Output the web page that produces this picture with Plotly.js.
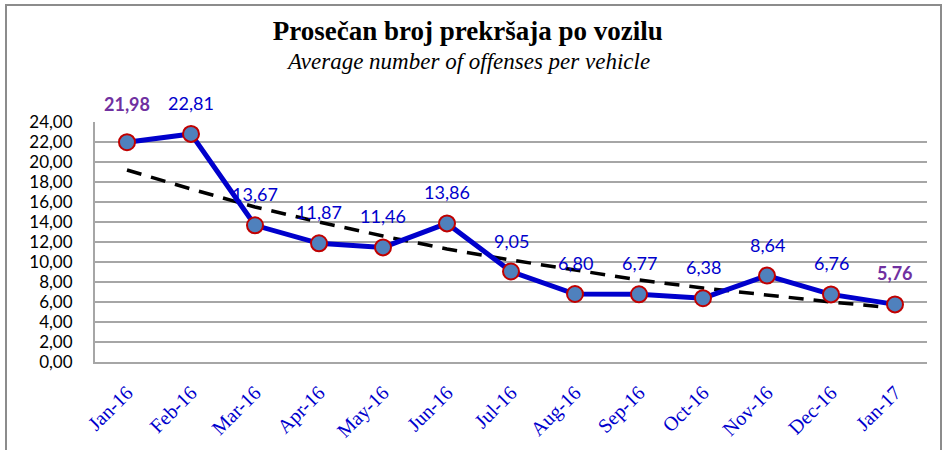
<!DOCTYPE html>
<html><head><meta charset="utf-8">
<script src="https://cdn.plot.ly/plotly-3.0.1.min.js"></script>
<style>
html,body{margin:0;padding:0;background:#fff;}
#wrap{position:relative;width:947px;height:450px;overflow:hidden;}
#chart{width:947px;height:450px;}
#frame{position:absolute;left:5px;top:4px;width:933px;height:470px;border:2px solid #8c8c8c;pointer-events:none;}
</style></head>
<body>
<div id="wrap"><div id="chart"></div><div id="frame"></div></div>
<script>
const months = ["Jan-16","Feb-16","Mar-16","Apr-16","May-16","Jun-16","Jul-16","Aug-16","Sep-16","Oct-16","Nov-16","Dec-16","Jan-17"];
const values = [21.98,22.81,13.67,11.87,11.46,13.86,9.05,6.80,6.77,6.38,8.64,6.76,5.76];
const trend = [19.2,17.3,15.5,14.0,12.6,11.3,10.2,9.2,8.2,7.4,6.7,6.0,5.4];
const yTicks = [0,2,4,6,8,10,12,14,16,18,20,22,24];
const yTickText = ["0,00","2,00","4,00","6,00","8,00","10,00","12,00","14,00","16,00","18,00","20,00","22,00","24,00"];
const fmt = v => v.toFixed(2).replace('.', ',');

const traces = [
  {x: months, y: trend, type:'scatter', mode:'lines',
   line:{color:'#000', width:3.5, dash:'15px,10px'}, hoverinfo:'skip'},
  {x: months, y: values, type:'scatter', mode:'lines+markers',
   line:{color:'#0000CC', width:5},
   marker:{size:16, color:'#4F81BD', line:{color:'#C00000', width:2}}}
];

const annotations = months.map((m,i) => {
  const edge = (i===0 || i===months.length-1);
  return {x:m, y:values[i], xref:'x', yref:'y', text: edge ? '<b>'+fmt(values[i])+'</b>' : fmt(values[i]),
    showarrow:false, yshift: i===0 ? 38 : 31,
    font:{family:'Lato, "Open Sans", sans-serif', size:18, color: edge ? '#7030A0' : '#0000CC'}};
});
annotations.push({xref:'paper', yref:'paper', x:0.448, y:1, xanchor:'center', yanchor:'middle', yshift:61, showarrow:false,
  text:'<i>Average number of offenses per vehicle</i>', font:{family:'"Liberation Serif", "Times New Roman", serif', size:23, color:'#000'}});

const layout = {
  width:947, height:450,
  margin:{l:95, r:20, t:122, b:88},
  paper_bgcolor:'#fff', plot_bgcolor:'#fff',
  showlegend:false,
  title:{text:'<b>Prosečan broj prekršaja po vozilu</b>', x:0.494, xanchor:'center', y:0.933, yanchor:'middle',
    font:{family:'"Liberation Serif", "Times New Roman", serif', size:27, color:'#000'}},
  xaxis:{type:'category', range:[-0.5,12.5], showgrid:false, showline:true, linecolor:'#a6a6a6', linewidth:2,
    ticks:'', tickangle:-45, ticklabelstandoff:9,
    tickfont:{family:'"Liberation Serif", "Times New Roman", serif', size:20, color:'#0000CC'}, zeroline:false},
  yaxis:{range:[0,24], tickvals:yTicks, ticktext:yTickText, showgrid:true, gridcolor:'#a6a6a6', gridwidth:2,
    showline:true, linecolor:'#a6a6a6', linewidth:2, ticks:'', zeroline:false,
    tickfont:{family:'Lato, "Open Sans", sans-serif', size:17, color:'#000'}, ticklabelstandoff:17},
  annotations: annotations
};
Plotly.newPlot('chart', traces, layout, {displayModeBar:false, staticPlot:true});
</script>
</body></html>
